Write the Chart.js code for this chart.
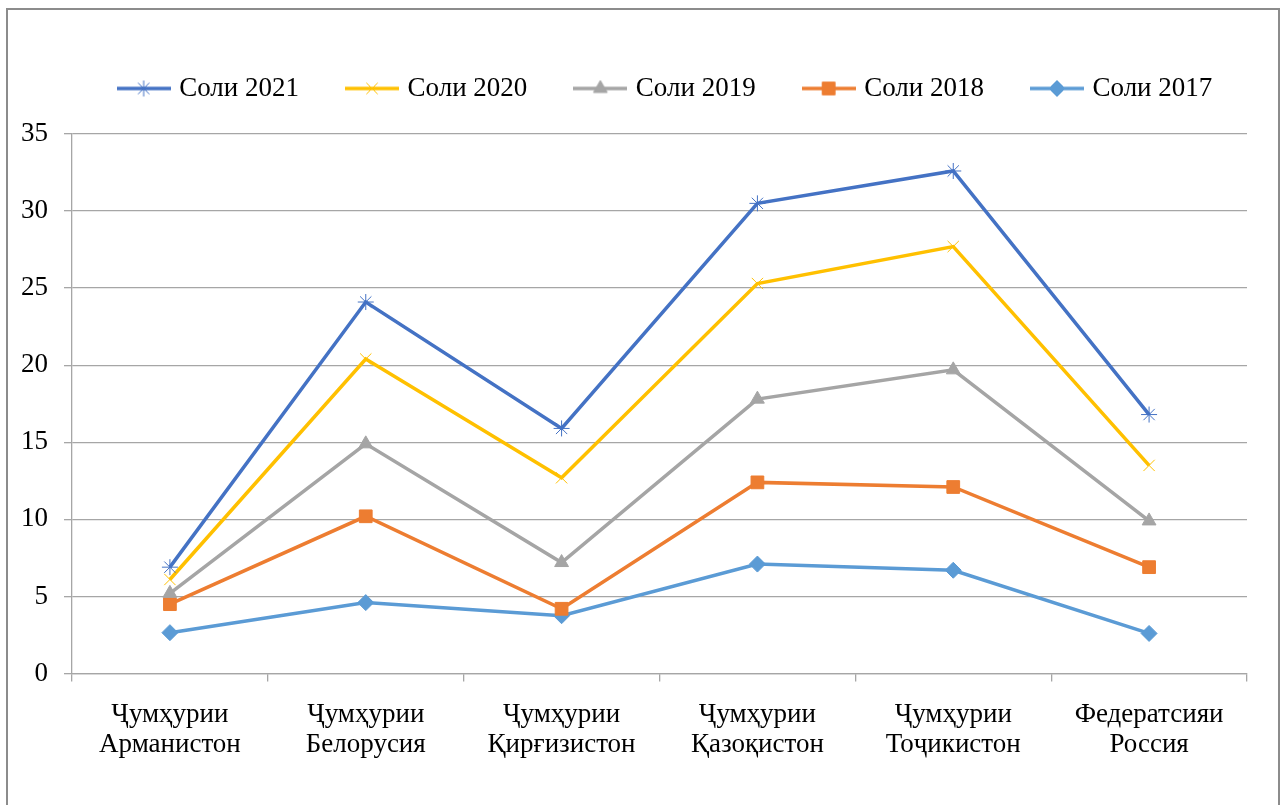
<!DOCTYPE html>
<html>
<head>
<meta charset="utf-8">
<script src="https://cdn.jsdelivr.net/npm/chart.js@4/dist/chart.umd.min.js"></script>
<style>
  body { margin: 0; background: #fff; }
  #frame { position: absolute; left: 6px; top: 8px; width: 1270px; height: 820px; border: 2px solid #8c8c8c; border-bottom: none; }
  #wrap { position: absolute; left: 0; top: 0; width: 1286px; height: 805px; }
</style>
</head>
<body>
<div id="frame"></div>
<div id="wrap"><canvas id="myChart" width="1286" height="805"></canvas></div>
<script>
const categories = [
  ['Ҷумҳурии', 'Арманистон'],
  ['Ҷумҳурии', 'Белорусия'],
  ['Ҷумҳурии', 'Қирғизистон'],
  ['Ҷумҳурии', 'Қазоқистон'],
  ['Ҷумҳурии', 'Тоҷикистон'],
  ['Федератсияи', 'Россия']
];
const seriesNames = ['Соли 2021', 'Соли 2020', 'Соли 2019', 'Соли 2018', 'Соли 2017'];
const values2021 = [6.9, 24.1, 15.9, 30.5, 32.6, 16.8];
const values2020 = [6.1, 20.4, 12.7, 25.3, 27.7, 13.5];
const values2019 = [5.2, 14.9, 7.2, 17.8, 19.7, 9.9];
const values2018 = [4.5, 10.2, 4.2, 12.4, 12.1, 6.9];
const values2017 = [2.65, 4.6, 3.75, 7.1, 6.7, 2.6];
const yTicks = [0, 5, 10, 15, 20, 25, 30, 35];

const colors = ['#4472C4', '#FFC000', '#A5A5A5', '#ED7D31', '#5B9BD5'];
const markers = ['star', 'crossRot', 'triangle', 'rect', 'rectRot'];
const markerSize = [8, 8, 8, 9, 8];
const allValues = [values2021, values2020, values2019, values2018, values2017];

const FONT = "'Liberation Serif', 'Times New Roman', serif";
const FS = 27;

// small line+marker icons for the legend
const legendIcons = colors.map((c, i) => {
  const cv = document.createElement('canvas');
  cv.width = 54; cv.height = 22;
  const ctx = cv.getContext('2d');
  ctx.strokeStyle = c;
  ctx.fillStyle = c;
  ctx.lineWidth = 3.5;
  ctx.beginPath();
  ctx.moveTo(0, 11);
  ctx.lineTo(54, 11);
  ctx.stroke();
  ctx.lineWidth = 1;
  Chart.helpers.drawPoint(ctx, { pointStyle: markers[i], radius: markerSize[i], rotation: 0, borderWidth: 1 }, 27, 11);
  return cv;
});

const legendTweak = {
  id: 'legendTweak',
  beforeInit(chart) {
    const fit = chart.legend.fit;
    chart.legend.fit = function () {
      fit.bind(chart.legend)();
      this.height = 110;
    };
  },
  afterLayout(chart) {
    chart.legend.left += 41;
    chart.legend.right += 41;
  }
};

const ctx = document.getElementById('myChart').getContext('2d');
const myChart = new Chart(ctx, {
  type: 'line',
  data: {
    labels: categories,
    datasets: allValues.map((vals, i) => ({
      label: seriesNames[i],
      data: vals,
      borderColor: colors[i],
      backgroundColor: colors[i],
      borderWidth: 3.5,
      pointStyle: markers[i],
      pointRadius: markerSize[i],
      pointBorderWidth: 1,
      pointHoverRadius: markerSize[i],
      fill: false,
      tension: 0
    }))
  },
  options: {
    responsive: false,
    animation: false,
    layout: { padding: { left: 5, right: 39, top: 24, bottom: 27 } },
    scales: {
      x: {
        offset: true,
        grid: { offset: true, drawOnChartArea: false, drawTicks: true, tickLength: 8, color: '#a6a6a6', lineWidth: 1.3 },
        border: { color: '#a6a6a6', width: 1.3 },
        ticks: { color: '#000', padding: 18, maxRotation: 0, autoSkip: false, font: { family: FONT, size: FS, lineHeight: 1.12 } }
      },
      y: {
        min: 0,
        max: 35,
        afterBuildTicks(axis) { axis.ticks = yTicks.map(v => ({ value: v })); },
        grid: { color: '#a6a6a6', lineWidth: 1.3, tickLength: 8 },
        border: { color: '#a6a6a6', width: 1.3 },
        ticks: { color: '#000', padding: 16, font: { family: FONT, size: FS } }
      }
    },
    plugins: {
      legend: {
        position: 'top',
        labels: {
          color: '#000',
          font: { family: FONT, size: FS },
          usePointStyle: true,
          pointStyleWidth: 44,
          boxHeight: 22,
          padding: 51,
          generateLabels(chart) {
            const items = Chart.defaults.plugins.legend.labels.generateLabels(chart);
            items.forEach(it => { it.pointStyle = legendIcons[it.datasetIndex]; });
            return items;
          }
        }
      },
      tooltip: { enabled: false }
    }
  },
  plugins: [legendTweak]
});
</script>
</body>
</html>
